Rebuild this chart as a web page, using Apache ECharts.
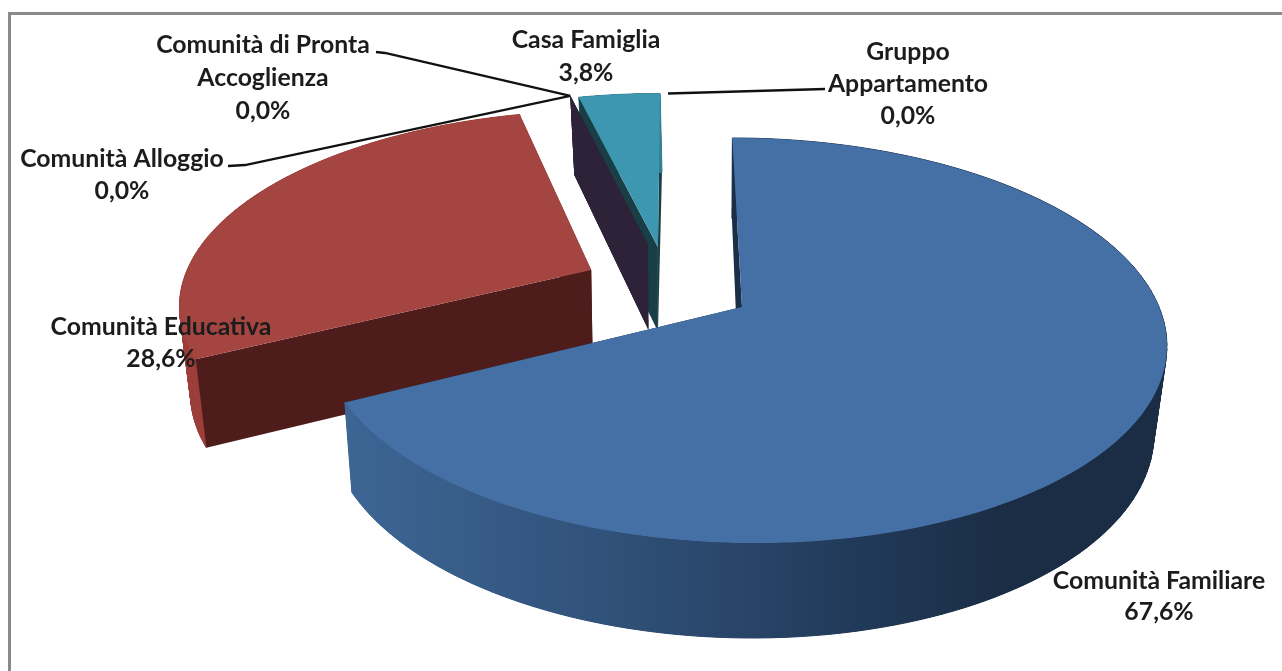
<!DOCTYPE html>
<html>
<head>
<meta charset="utf-8">
<style>
html, body { margin: 0; padding: 0; background: #fff; }
#main { width: 1282px; height: 671px; }
</style>
<script src="https://cdn.jsdelivr.net/npm/echarts@6/dist/echarts.min.js"></script>
</head>
<body>
<div id="main"></div>
<script>
const categories = ["Comunità Familiare", "Comunità Educativa", "Comunità Alloggio", "Comunità di Pronta Accoglienza", "Casa Famiglia", "Gruppo Appartamento"];
const values = [67.6, 28.6, 0.0, 0.0, 3.8, 0.0];

// label layout, in the same order as categories: wrapped name, centre x, first line y
const labelLines = [["Comunità Familiare"], ["Comunità Educativa"], ["Comunità Alloggio"], ["Comunità di Pronta", "Accoglienza"], ["Casa Famiglia"], ["Gruppo", "Appartamento"]];
const labelX = [1159, 161, 122, 263, 586, 908];
const labelY = [581, 327, 159, 45, 40, 52];
const lineGap = [31, 32, 32, 33, 33, 32];
const elbows = [null, null, [[228, 166], [245, 165]], [[376, 52], [385, 53]], null, [[825, 89]]];

// explode offset of each slice on the pie plane, and colours
const explode = [[0, 0], [-0.368, -0.194], [-0.229, -0.332], [-0.229, -0.332], [-0.2037, -0.3208], [-0.1806, -0.3208]];
const topColors = ["#4470a6", "#a54541", null, null, "#3e97b0", null];
const cutColors = ["#1a2e47", "#4f1c1c", "#2e2239", "#2e2239", "#1a3e46", null];
const blueSide = {
    type: "linear", x: 345, y: 0, x2: 1170, y2: 0, global: true,
    colorStops: [
        { offset: 0, color: "#3d6695" },
        { offset: 0.35, color: "#2f4f76" },
        { offset: 0.6, color: "#223b5b" },
        { offset: 0.8, color: "#1a2d45" },
        { offset: 1, color: "#1a2d45" },
    ],
};
const sideColors = [blueSide, "#9c3f3b", null, null, "#35808f", null];

// drawn back to front, the big slice goes last
const drawOrder = [1, 4, 2, 3, 5, 0];

const total = values.reduce((a, b) => a + b, 0);
const startAngles = [];
let sum = 0;
values.forEach((v) => {
    startAngles.push((sum / total) * 360);
    sum += v;
});

// perspective of the pie plane: u to the right, v to the viewer, radius 1
function project(u, v) {
    const w = 1 - 0.1654 * v;
    return [(742 + 417 * u - 111.5 * v) / w, (307 + 146.2 * v) / w];
}
function rim(i, deg) {
    const a = (deg * Math.PI) / 180;
    return project(explode[i][0] + Math.sin(a), explode[i][1] - Math.cos(a));
}
function apex(i) {
    return project(explode[i][0], explode[i][1]);
}
// the lower face of the disc
function drop(p) {
    const lean = p[1] < 300 ? (300 - p[1]) * 0.012 : 0;
    return [p[0] + (634 - p[0]) * 0.0244 + lean, p[1] + 90 + (p[1] - 403) * 0.0357];
}
function poly(points, fill, edge) {
    return {
        type: "polygon",
        silent: true,
        shape: { points: points },
        style: { fill: fill, stroke: edge ? fill : null, lineWidth: edge ? 1 : 0 },
    };
}

function renderSlice(params, api) {
    const i = api.value(0);
    const from = startAngles[i];
    const to = from + (api.value(1) / total) * 360;
    const c = apex(i);
    const arc = [];
    const n = 160;
    for (let s = 0; s <= n; s++) {
        arc.push(rim(i, from + ((to - from) * s) / n));
    }
    const children = [];
    if (cutColors[i]) {
        const end = arc[arc.length - 1];
        children.push(poly([end, c, drop(c), drop(end)], cutColors[i]));
    }
    if (sideColors[i]) {
        // whole band first so the strips leave no seams on white
        children.push(poly(arc.concat(arc.map(drop).reverse()), sideColors[i]));
        for (let s = 0; s < n; s++) {
            children.push(poly([arc[s], arc[s + 1], drop(arc[s + 1]), drop(arc[s])], sideColors[i], true));
        }
    }
    if (cutColors[i]) {
        children.push(poly([arc[0], c, drop(c), drop(arc[0])], cutColors[i]));
    }
    if (topColors[i]) {
        children.push(poly([c].concat(arc), topColors[i]));
    }
    return { type: "group", children: children };
}

function renderLabel(params, api) {
    const i = api.value(0);
    const children = [];
    const lines = labelLines[i].concat([api.value(1).toFixed(1).replace(".", ",") + "%"]);
    lines.forEach((t, l) => {
        children.push({
            type: "text",
            silent: true,
            style: {
                text: t,
                x: labelX[i],
                y: labelY[i] + l * lineGap[i],
                align: "center",
                verticalAlign: "middle",
                fill: "#1c1c1c",
                font: "bold 24.8px Lato",
            },
        });
    });
    if (elbows[i]) {
        children.push({
            type: "polyline",
            silent: true,
            shape: { points: elbows[i].concat([rim(i, startAngles[i])]) },
            style: { stroke: "#111", lineWidth: 2.3, fill: null },
        });
    }
    return { type: "group", children: children };
}

let dom = document.getElementById("main");
let myChart = echarts.init(dom, null, { renderer: "canvas" });
let option = {
    backgroundColor: "#ffffff",
    animation: false,
    graphic: [{
        type: "rect",
        z: 0,
        silent: true,
        shape: { x: 9.5, y: 13.5, width: 1400, height: 800 },
        style: { fill: null, stroke: "#8a8a8a", lineWidth: 3 },
    }],
    series: [{
        type: "custom",
        coordinateSystem: "none",
        z: 2,
        renderItem: renderSlice,
        data: drawOrder.map((i) => [i, values[i]]),
    }, {
        type: "custom",
        coordinateSystem: "none",
        z: 3,
        renderItem: renderLabel,
        data: categories.map((c, i) => [i, values[i]]),
    }],
};
myChart.setOption(option);

window.addEventListener("resize", myChart.resize);
</script>
</body>
</html>
